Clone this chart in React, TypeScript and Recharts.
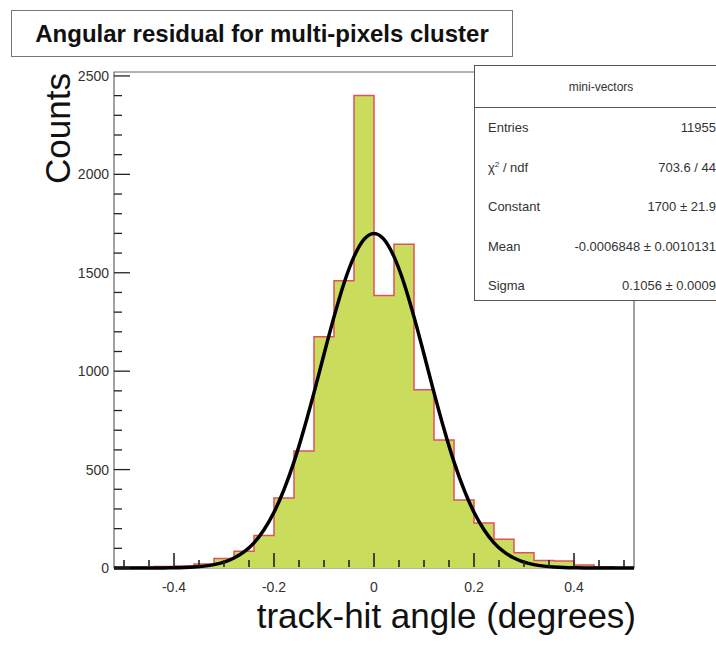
import { ComposedChart, Area, Line, XAxis, YAxis, ReferenceArea, Label } from 'recharts';

// histogram bins: low edge of each 0.04-wide bin, and counts
const binLow = [
  -0.52, -0.48, -0.44, -0.4, -0.36, -0.32, -0.28, -0.24, -0.2, -0.16, -0.12, -0.08, -0.04,
  0, 0.04, 0.08, 0.12, 0.16, 0.2, 0.24, 0.28, 0.32, 0.36, 0.4, 0.44, 0.48,
];
const binCounts = [
  3, 4, 8, 10, 20, 48, 85, 165, 356, 595, 1175, 1460, 2400,
  1385, 1645, 905, 650, 345, 228, 146, 78, 38, 36, 15, 6, 3,
];
const binHigh = 0.52;

// gaussian fit curve, sampled every 0.02
const fitX = [
  -0.52, -0.5, -0.48, -0.46, -0.44, -0.42, -0.4, -0.38, -0.36, -0.34, -0.32, -0.3, -0.28,
  -0.26, -0.24, -0.22, -0.2, -0.18, -0.16, -0.14, -0.12, -0.1, -0.08, -0.06, -0.04, -0.02,
  0, 0.02, 0.04, 0.06, 0.08, 0.1, 0.12, 0.14, 0.16, 0.18, 0.2, 0.22, 0.24, 0.26,
  0.28, 0.3, 0.32, 0.34, 0.36, 0.38, 0.4, 0.42, 0.44, 0.46, 0.48, 0.5, 0.52,
];
const fitCounts = [
  0, 0, 0.1, 0.1, 0.3, 0.6, 1.3, 2.6, 5.1, 9.5, 17, 30, 51,
  82, 128, 194, 283, 398, 539, 706, 891, 1086, 1276, 1447, 1582, 1670,
  1700, 1670, 1582, 1447, 1276, 1086, 891, 706, 539, 398, 283, 194, 128, 82,
  51, 30, 17, 9.5, 5.1, 2.6, 1.3, 0.6, 0.3, 0.1, 0.1, 0, 0,
];

const xTicks = [
  -0.5, -0.45, -0.4, -0.35, -0.3, -0.25, -0.2, -0.15, -0.1, -0.05, 0,
  0.05, 0.1, 0.15, 0.2, 0.25, 0.3, 0.35, 0.4, 0.45, 0.5,
];
const yTicks = [
  0, 100, 200, 300, 400, 500, 600, 700, 800, 900, 1000, 1100, 1200, 1300, 1400,
  1500, 1600, 1700, 1800, 1900, 2000, 2100, 2200, 2300, 2400, 2500,
];

const statRows = [
  { label: 'Entries', value: '11955' },
  { label: 'χ² / ndf', value: '703.6 / 44' },
  { label: 'Constant', value: '1700 ± 21.9' },
  { label: 'Mean', value: '-0.0006848 ± 0.0010131' },
  { label: 'Sigma', value: '0.1056 ± 0.0009' },
];

const FONT = "'Liberation Sans', Arial, Helvetica, sans-serif";
const W = 716;
const H = 648;
const MARGIN = { top: 72, right: 82, bottom: 0, left: 0 };
const X_DOMAIN = [-0.52, 0.52];
const Y_DOMAIN = [0, 2520];

const histData = [
  ...binLow.map((x, i) => ({ x, n: binCounts[i] })),
  { x: binHigh, n: binCounts[binCounts.length - 1] },
];
const fitData = fitX.map((x, i) => ({ x, f: fitCounts[i] }));

const isMajor = (v: number, step: number) => Math.abs(v / step - Math.round(v / step)) < 1e-6;

const XTick = (props: any) => {
  const { x, y, payload } = props;
  const v = payload.value as number;
  const major = isMajor(v, 0.2);
  return (
    <g>
      <line x1={x} x2={x} y1={y - 1} y2={y - (major ? 15 : 8)} stroke="#222" strokeWidth={1.6} />
      {major && (
        <text x={x} y={y + 24} textAnchor="middle" fontSize={14} fill="#333" fontFamily={FONT}>
          {v === 0 ? '0' : v.toFixed(1)}
        </text>
      )}
    </g>
  );
};

const YTick = (props: any) => {
  const { x, y, payload } = props;
  const v = payload.value as number;
  const major = isMajor(v, 500);
  return (
    <g>
      <line x1={x} x2={x + (major ? 16 : 8)} y1={y} y2={y} stroke="#222" strokeWidth={1.3} />
      {major && (
        <text x={x - 5} y={y + 5} textAnchor="end" fontSize={14} fill="#333" fontFamily={FONT}>
          {v}
        </text>
      )}
    </g>
  );
};

export default function App() {
  return (
    <div
      style={{
        position: 'absolute', left: 0, top: 0, width: W, height: H,
        overflow: 'hidden', background: '#fff', fontFamily: FONT,
      }}
    >
      <ComposedChart width={W} height={H} margin={MARGIN}>
        <XAxis
          type="number" dataKey="x" domain={X_DOMAIN} ticks={xTicks} interval={0}
          height={80} axisLine={false} tickLine={false} tick={false}
        >
          <Label
            content={({ viewBox }: any) => (
              <text
                x={viewBox.x + viewBox.width + 2} y={viewBox.y + 60} textAnchor="end"
                fontSize={35} fill="#111" fontFamily={FONT}
              >
                track-hit angle (degrees)
              </text>
            )}
          />
        </XAxis>
        <YAxis
          type="number" domain={Y_DOMAIN} ticks={yTicks} interval={0} width={114}
          axisLine={false} tickLine={false} tickSize={0} tickMargin={0} tick={<YTick />}
        >
          <Label
            content={({ viewBox }: any) => (
              <text
                x={70} y={viewBox.y + 1} textAnchor="end" fontSize={35} fill="#111" fontFamily={FONT}
                transform={`rotate(-90 70 ${viewBox.y + 1})`}
              >
                Counts
              </text>
            )}
          />
        </YAxis>
        <ReferenceArea x1={X_DOMAIN[0]} x2={X_DOMAIN[1]} y1={Y_DOMAIN[0]} y2={Y_DOMAIN[1]} fill="none" stroke="#666" strokeWidth={1.2} />
        <Area
          data={histData} dataKey="n" type="stepAfter" fill="#cadc5c" fillOpacity={1}
          stroke="#e0525a" strokeWidth={1.5} isAnimationActive={false}
        />
        <Line
          data={fitData} dataKey="f" type="monotone" stroke="#000" strokeWidth={3.5}
          dot={false} isAnimationActive={false}
        />
      </ComposedChart>

      {/* x axis again on top, so the inward ROOT-style ticks sit over the filled bins */}
      <div style={{ position: 'absolute', left: 0, top: 0, pointerEvents: 'none' }}>
        <ComposedChart width={W} height={H} margin={MARGIN} data={histData}>
          <XAxis
            type="number" dataKey="x" domain={X_DOMAIN} ticks={xTicks} interval={0}
            height={80} axisLine={false} tickLine={false} tickSize={0} tickMargin={0} tick={<XTick />}
          />
          <YAxis type="number" domain={Y_DOMAIN} width={114} axisLine={false} tickLine={false} tick={false} />
        </ComposedChart>
      </div>

      <div
        style={{
          position: 'absolute', left: 11, top: 10, width: 500, height: 45,
          border: '1px solid #777', background: '#fff', display: 'flex',
          alignItems: 'center', justifyContent: 'center', fontWeight: 'bold', fontSize: 24, color: '#111',
        }}
      >
        Angular residual for multi-pixels cluster
      </div>

      <div
        style={{
          position: 'absolute', left: 474, top: 65, width: 252, height: 234,
          border: '1px solid #555', background: '#fff', color: '#333', fontSize: 13,
        }}
      >
        <div
          style={{
            height: 41, borderBottom: '1px solid #555', display: 'flex',
            alignItems: 'center', justifyContent: 'center', fontSize: 12,
          }}
        >
          mini-vectors
        </div>
        {statRows.map((r) => (
          <div
            key={r.label}
            style={{
              height: 39.5, display: 'flex', alignItems: 'center',
              justifyContent: 'space-between', padding: '0 11px 0 13px',
            }}
          >
            <span>
              {r.label === 'χ² / ndf' ? (<>χ<sup style={{ fontSize: 8 }}>2</sup> / ndf</>) : r.label}
            </span>
            <span>{r.value}</span>
          </div>
        ))}
      </div>
    </div>
  );
}
